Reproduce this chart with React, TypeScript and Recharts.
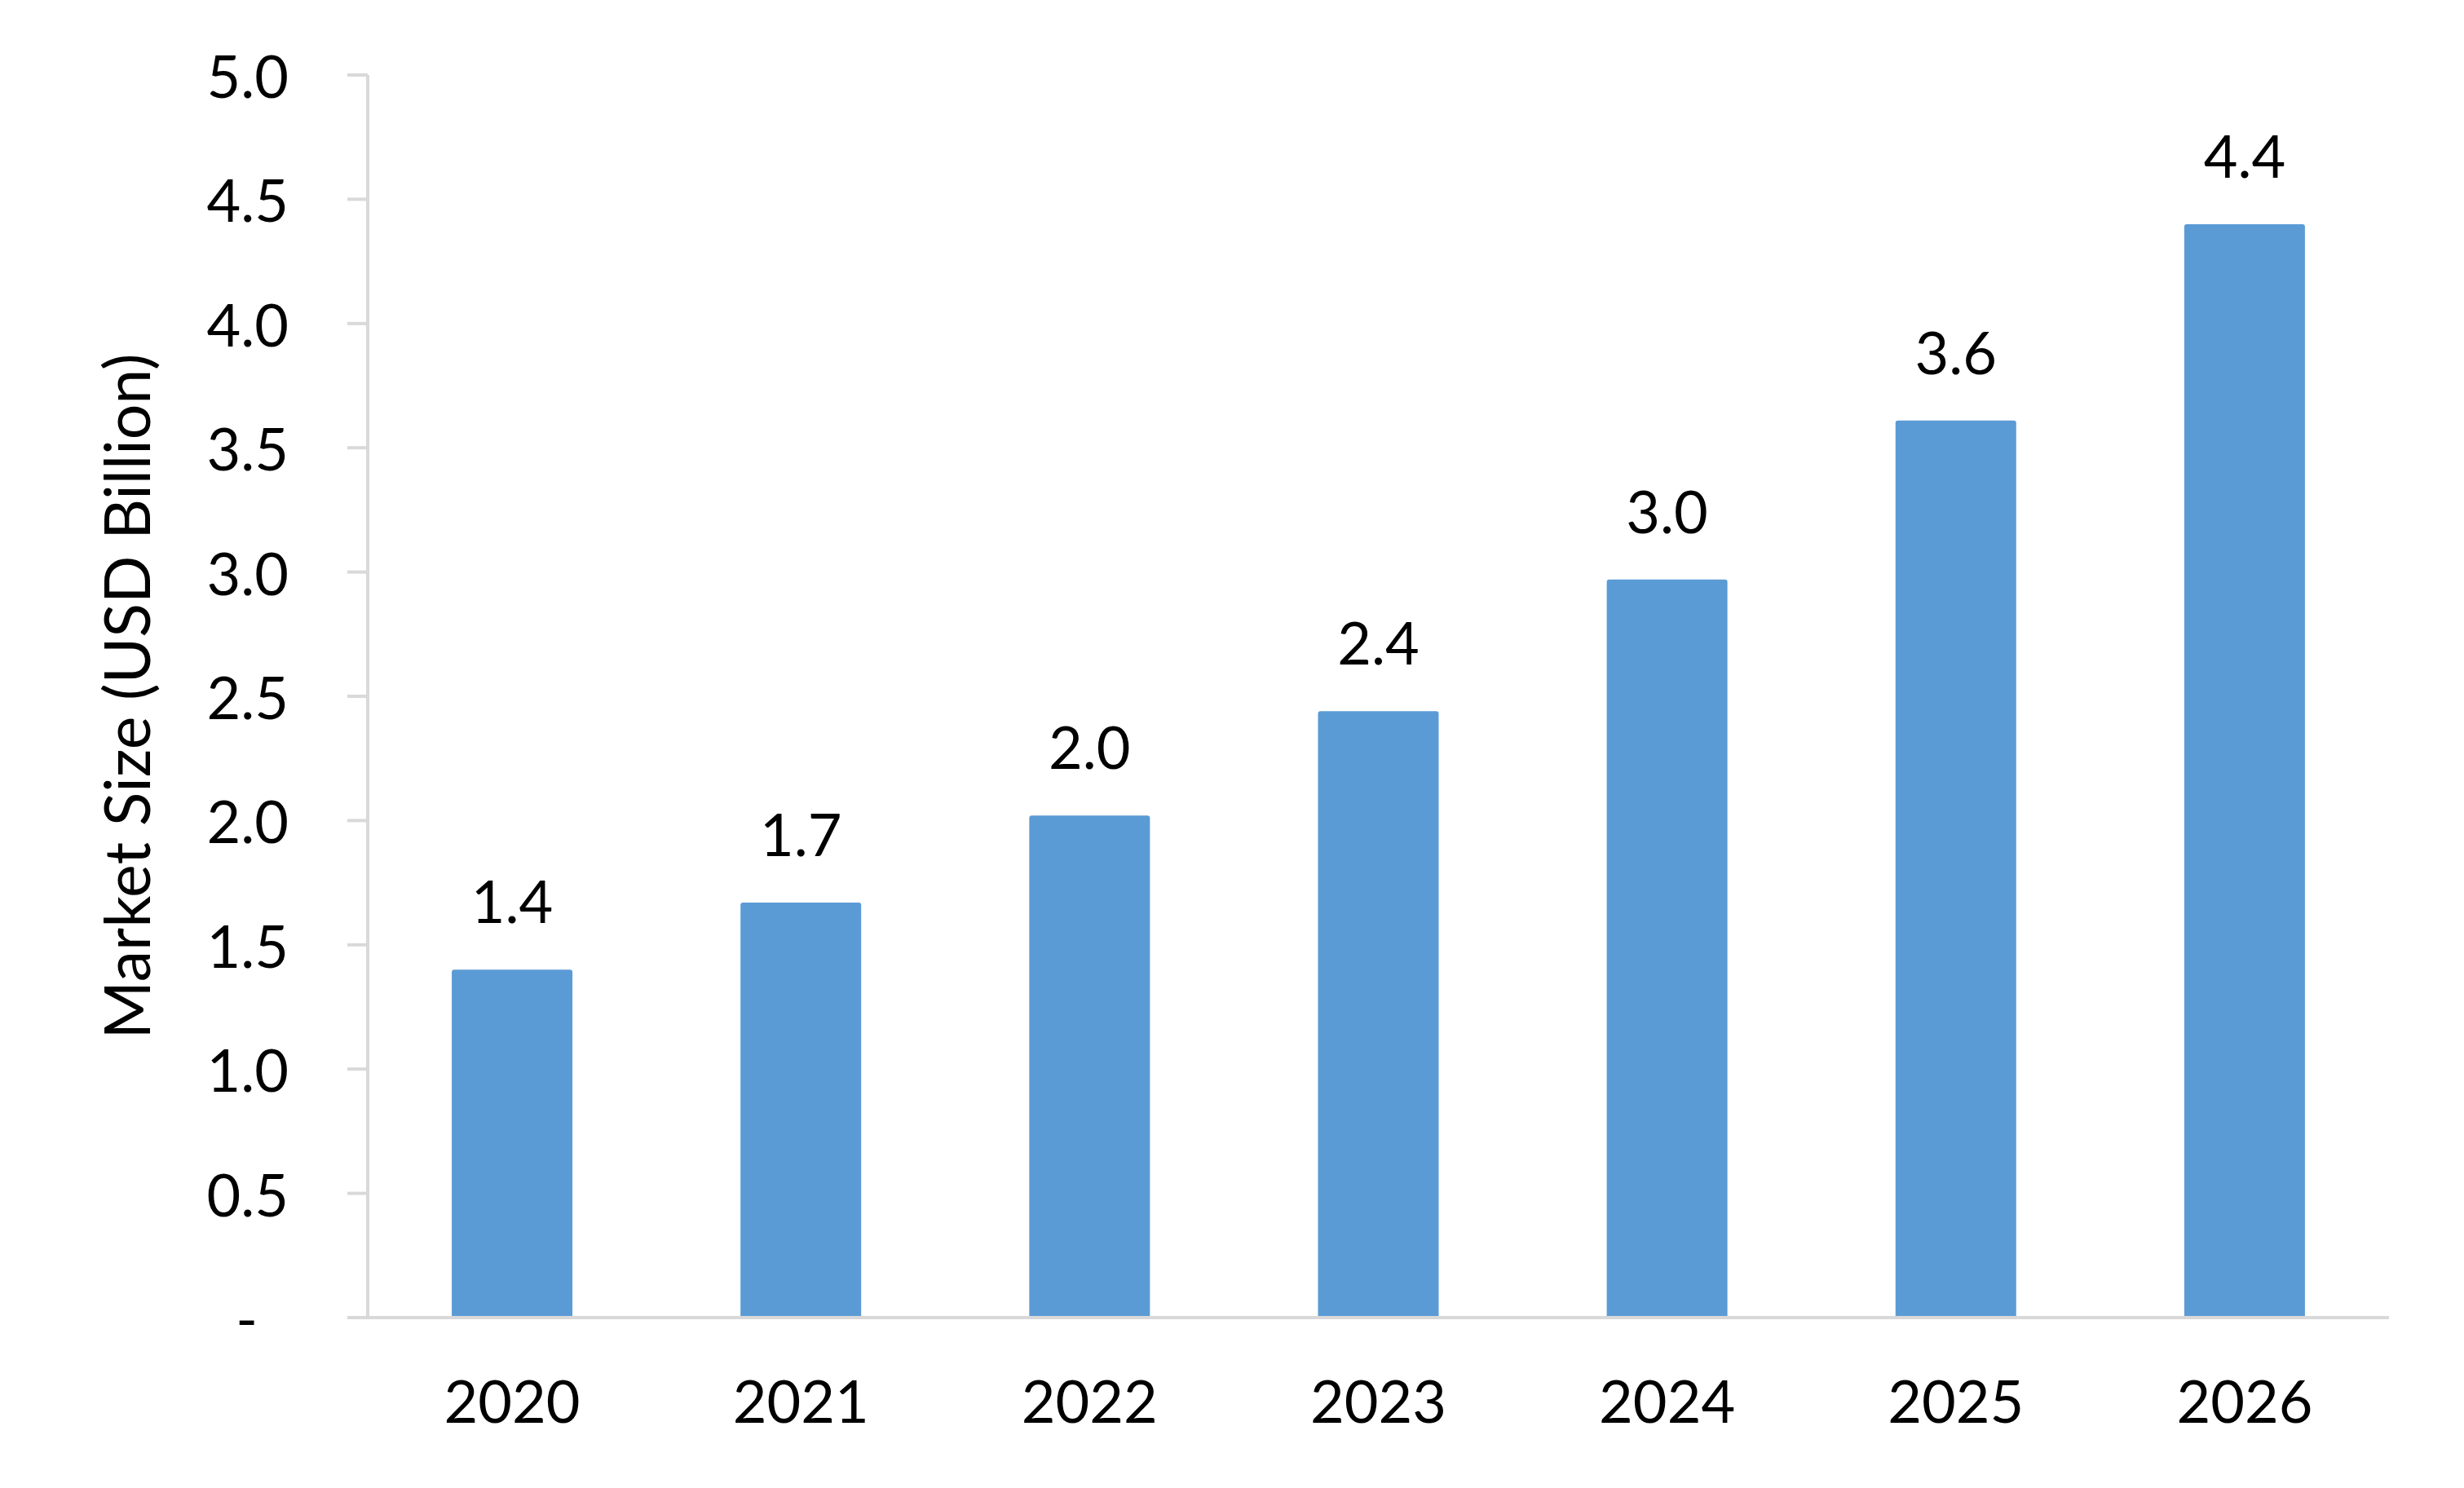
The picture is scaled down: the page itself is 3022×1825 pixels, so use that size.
import { Bar, BarChart, LabelList, Label, XAxis, YAxis } from 'recharts'

const years = ['2020', '2021', '2022', '2023', '2024', '2025', '2026']
const marketSize = [1.4, 1.67, 2.02, 2.44, 2.97, 3.61, 4.4]
const yTicks = [0, 0.5, 1, 1.5, 2, 2.5, 3, 3.5, 4, 4.5, 5]

const data = years.map((year, i) => ({ year, value: marketSize[i] }))

const FONT = 'Lato, "Noto Sans", sans-serif'
const AXIS_GRAY = '#d9d9d9'

function YTick({ x, y, payload }: any) {
  const isZero = payload.value === 0
  return (
    <text
      x={x}
      y={y}
      dx={isZero ? -38 : 0}
      textAnchor="end"
      dominantBaseline="central"
      fontFamily={FONT}
      fontSize={72}
      fill="#000"
    >
      {isZero ? '-' : payload.value.toFixed(1)}
    </text>
  )
}

function YTitle({ viewBox }: any) {
  const cx = viewBox.x + 146
  const cy = viewBox.y + viewBox.height / 2
  return (
    <text
      x={cx}
      y={cy}
      transform={`rotate(-90, ${cx}, ${cy})`}
      textAnchor="middle"
      dominantBaseline="central"
      fontFamily={FONT}
      fontSize={77}
      fill="#000"
    >
      Market Size (USD Billion)
    </text>
  )
}

export default function App() {
  return (
    <BarChart
      width={3006}
      height={1809}
      data={data}
      margin={{ top: 84, right: 84, bottom: 51, left: 0 }}
      barCategoryGap="29.1%"
    >
      <XAxis
        dataKey="year"
        stroke={AXIS_GRAY}
        strokeWidth={4}
        tickLine={false}
        tickSize={0}
        tickMargin={78}
        height={150}
        tick={{ fill: '#000', fontSize: 72, fontFamily: FONT }}
      />
      <YAxis
        domain={[0, 5]}
        ticks={yTicks}
        width={443}
        stroke={AXIS_GRAY}
        strokeWidth={4}
        tickSize={25}
        tickMargin={72}
        tick={<YTick />}
        interval={0}
      >
        <Label content={<YTitle />} />
      </YAxis>
      <Bar dataKey="value" fill="#5b9bd5" radius={[3, 3, 0, 0]} isAnimationActive={false}>
        <LabelList
          dataKey="value"
          position="top"
          offset={57}
          formatter={(v: any) => Number(v).toFixed(1)}
          style={{ fill: '#000', fontSize: 72, fontFamily: FONT }}
        />
      </Bar>
    </BarChart>
  )
}
